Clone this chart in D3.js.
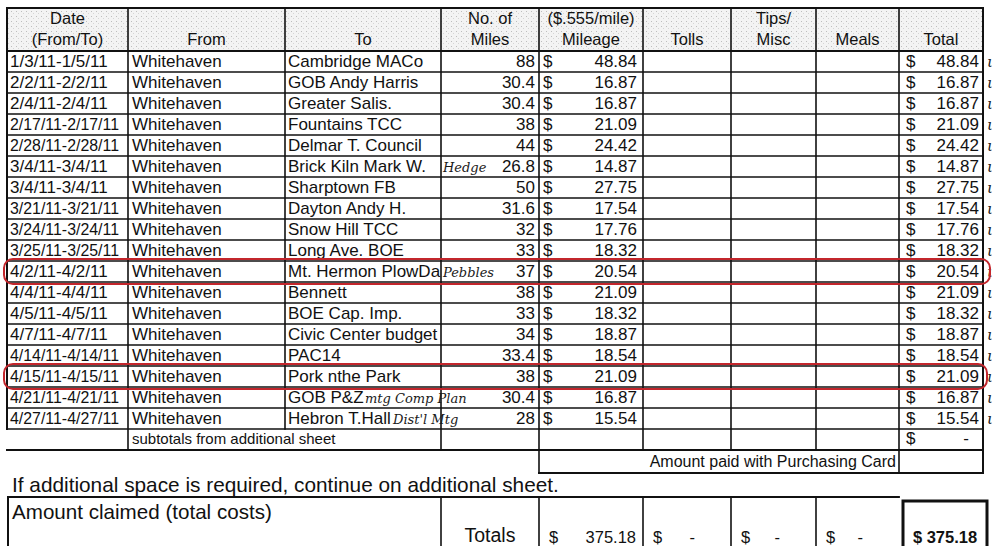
<!DOCTYPE html>
<html>
<head>
<meta charset="utf-8">
<script src="https://cdn.jsdelivr.net/npm/d3@7"></script>
<style>
  body { margin: 0; background: #fff; }
  svg { display: block; }
  text { font-family: "Liberation Sans", Arial, sans-serif; fill: #111; }
  .hand { font-family: "DejaVu Serif", serif; font-style: italic; fill: #1a1a1a; }
</style>
</head>
<body>
<svg id="sheet" width="997" height="546"></svg>
<script>
const dates = ['1/3/11-1/5/11', '2/2/11-2/2/11', '2/4/11-2/4/11', '2/17/11-2/17/11',
  '2/28/11-2/28/11', '3/4/11-3/4/11', '3/4/11-3/4/11', '3/21/11-3/21/11',
  '3/24/11-3/24/11', '3/25/11-3/25/11', '4/2/11-4/2/11', '4/4/11-4/4/11',
  '4/5/11-4/5/11', '4/7/11-4/7/11', '4/14/11-4/14/11', '4/15/11-4/15/11',
  '4/21/11-4/21/11', '4/27/11-4/27/11'];
const fromPlace = ['Whitehaven', 'Whitehaven', 'Whitehaven', 'Whitehaven', 'Whitehaven',
  'Whitehaven', 'Whitehaven', 'Whitehaven', 'Whitehaven', 'Whitehaven', 'Whitehaven',
  'Whitehaven', 'Whitehaven', 'Whitehaven', 'Whitehaven', 'Whitehaven', 'Whitehaven',
  'Whitehaven'];
const toPlace = ['Cambridge MACo', 'GOB Andy Harris', 'Greater Salis.', 'Fountains TCC',
  'Delmar T. Council', 'Brick Kiln Mark W.', 'Sharptown FB', 'Dayton Andy H.',
  'Snow Hill TCC', 'Long Ave. BOE', 'Mt. Hermon PlowDa', 'Bennett', 'BOE Cap. Imp.',
  'Civic Center budget', 'PAC14', 'Pork nthe Park', 'GOB P&Z', 'Hebron T.Hall'];
const miles = [88, 30.4, 30.4, 38, 44, 26.8, 50, 31.6, 32, 33, 37, 38, 33, 34, 33.4, 38, 30.4, 28];
const mileage = [48.84, 16.87, 16.87, 21.09, 24.42, 14.87, 27.75, 17.54, 17.76, 18.32,
  20.54, 21.09, 18.32, 18.87, 18.54, 21.09, 16.87, 15.54];
const rowTotal = [48.84, 16.87, 16.87, 21.09, 24.42, 14.87, 27.75, 17.54, 17.76, 18.32,
  20.54, 21.09, 18.32, 18.87, 18.54, 21.09, 16.87, 15.54];
const circledRows = [10, 15];
const handNotes = [{row: 5, text: 'Hedge', col: 'miles', dx: 2},
  {row: 10, text: 'Pebbles', col: 'miles', dx: 2},
  {row: 16, text: 'mtg Comp Plan', col: 'to', dx: 80},
  {row: 17, text: "Dist'l Mtg", col: 'to', dx: 108}];
const headerTop = ['Date', '', '', 'No. of', '($.555/mile)', '', 'Tips/', '', ''];
const headerBottom = ['(From/To)', 'From', 'To', 'Miles', 'Mileage', 'Tolls', 'Misc', 'Meals', 'Total'];
const grandTotals = ['375.18', '-', '-', '-'];
const grandTotal = '$ 375.18';

// ---- layout ----
const svg = d3.select('#sheet');
const colKeys = ['date', 'from', 'to', 'miles', 'mileage', 'tolls', 'tips', 'meals', 'total', 'end'];
const colX = d3.scaleOrdinal().domain(colKeys).range([7, 128, 285, 441, 539, 643, 731, 816, 899, 983]);
const left = (k) => colX(k);
const right = (k) => colX(colKeys[colKeys.indexOf(k) + 1]);
const mid = (k) => (left(k) + right(k)) / 2;

const rowIdx = d3.range(dates.length + 1);          // last one = subtotals row
const y = d3.scaleBand().domain(rowIdx).range([51, 450]);
const headY = [8, 51];
const cardY = [450, 473];
const fmt = d3.format('.2f');
const fmtMiles = (v) => (Number.isInteger(v) ? String(v) : v.toFixed(1));

// halftone look of the header cells
const defs = svg.append('defs');
const pat = defs.append('pattern').attr('id', 'speckle')
  .attr('width', 5).attr('height', 5).attr('patternUnits', 'userSpaceOnUse');
pat.append('rect').attr('width', 5).attr('height', 5).attr('fill', '#f3f3f3');
pat.append('rect').attr('x', 1).attr('y', 1).attr('width', 1).attr('height', 1).attr('fill', '#bdbdbd');
pat.append('rect').attr('x', 3).attr('y', 3).attr('width', 1).attr('height', 1).attr('fill', '#d5d5d5');

svg.append('rect')
  .attr('x', left('date')).attr('y', headY[0])
  .attr('width', right('total') - left('date')).attr('height', headY[1] - headY[0])
  .attr('fill', 'url(#speckle)');

// ---- grid lines ----
const grid = svg.append('g').attr('stroke', '#111').attr('stroke-linecap', 'square');
function hline(x1, x2, yy, w = 1.6) {
  grid.append('line').attr('x1', x1).attr('x2', x2).attr('y1', yy).attr('y2', yy).attr('stroke-width', w);
}
function vline(xx, y1, y2, w = 1.6) {
  grid.append('line').attr('x1', xx).attr('x2', xx).attr('y1', y1).attr('y2', y2).attr('stroke-width', w);
}

hline(left('date'), right('total'), headY[0], 2);
hline(left('date'), right('total'), headY[1], 1.8);
dates.forEach((d, i) => hline(left('date'), right('total'), y(i) + y.bandwidth(), 1.6));
hline(left('date'), right('total'), y(dates.length) + y.bandwidth(), 2);
hline(left('mileage'), right('total'), cardY[1], 2);

const lastRowBottom = y(dates.length - 1) + y.bandwidth();
const subBottom = y(dates.length) + y.bandwidth();
vline(left('date'), headY[0], lastRowBottom, 2);
vline(left('from'), headY[0], subBottom);
vline(left('to'), headY[0], lastRowBottom);
vline(left('miles'), headY[0], subBottom);
vline(left('mileage'), headY[0], cardY[1]);
['tolls', 'tips', 'meals'].forEach((k) => vline(left(k), headY[0], subBottom));
vline(left('total'), headY[0], cardY[1]);
vline(right('total'), headY[0], cardY[1], 2);

// ---- header text ----
const head = svg.append('g').attr('font-size', 16.5).attr('text-anchor', 'middle');
colKeys.slice(0, 9).forEach((k, i) => {
  head.append('text').attr('x', mid(k)).attr('y', 24).text(headerTop[i]);
  head.append('text').attr('x', mid(k)).attr('y', 45).text(headerBottom[i]);
});

// ---- body rows ----
const body = svg.append('g').attr('font-size', 17);
const rows = body.selectAll('g.row').data(dates).join('g')
  .attr('class', 'row')
  .attr('transform', (d, i) => `translate(0, ${y(i) + 16})`);

// long dates are squeezed into the cell, as the spreadsheet did
const dateText = rows.append('text').attr('x', left('date') + 3).text((d) => d);
dateText.filter((d) => d.length > 13)
  .attr('textLength', 109).attr('lengthAdjust', 'spacingAndGlyphs');

rows.append('text').attr('x', left('from') + 4).text((d, i) => fromPlace[i]);
rows.append('text').attr('x', left('to') + 3).text((d, i) => toPlace[i]);
rows.append('text').attr('x', right('miles') - 4).attr('text-anchor', 'end').text((d, i) => fmtMiles(miles[i]));
rows.append('text').attr('x', left('mileage') + 4).text('$');
rows.append('text').attr('x', right('mileage') - 6).attr('text-anchor', 'end').text((d, i) => fmt(mileage[i]));
rows.append('text').attr('x', left('total') + 7).text('$');
rows.append('text').attr('x', right('total') - 4).attr('text-anchor', 'end').text((d, i) => fmt(rowTotal[i]));

// subtotals + purchasing card rows
const subY = y(dates.length) + 15;
svg.append('text').attr('x', left('from') + 4).attr('y', subY).attr('font-size', 15)
  .text('subtotals from additional sheet');
svg.append('text').attr('x', left('total') + 7).attr('y', subY).attr('font-size', 17).text('$');
svg.append('text').attr('x', right('total') - 14).attr('y', subY).attr('font-size', 17)
  .attr('text-anchor', 'end').text('-');
svg.append('text').attr('x', left('total') - 3).attr('y', cardY[1] - 6).attr('font-size', 16)
  .attr('text-anchor', 'end').text('Amount paid with Purchasing Card');

// handwritten notes
const notes = svg.append('g');
notes.selectAll('text.note').data(handNotes).join('text')
  .attr('class', 'hand note')
  .attr('x', (n) => left(n.col) + n.dx).attr('y', (n) => y(n.row) + 16)
  .attr('font-size', 13).text((n) => n.text);
notes.selectAll('text.tick').data(dates).join('text')
  .attr('class', 'hand tick')
  .attr('x', right('total') + 4).attr('y', (d, i) => y(i) + 16)
  .attr('font-size', 15).text('ι');

// red rounded marks around two rows
svg.append('g').selectAll('rect').data(circledRows).join('rect')
  .attr('x', 4).attr('y', (r) => y(r) - 2)
  .attr('width', (r) => (r === 10 ? 986 : 983)).attr('height', y.bandwidth() + 4)
  .attr('rx', 9)
  .attr('fill', 'none').attr('stroke', '#c3262c').attr('stroke-width', 2);

// ---- lower section ----
svg.append('text').attr('x', 12).attr('y', 492).attr('font-size', 20.8)
  .text('If additional space is required, continue on additional sheet.');

const boxTop = 497;
hline(left('date') + 1, left('total'), boxTop, 1.8);
vline(left('date') + 1, boxTop, 546, 2);
['miles', 'mileage', 'tolls', 'tips', 'meals'].forEach((k) => vline(left(k), boxTop, 546));
svg.append('text').attr('x', 12).attr('y', 519).attr('font-size', 20.6).text('Amount claimed (total costs)');
svg.append('text').attr('x', mid('miles')).attr('y', 542).attr('font-size', 19.5)
  .attr('text-anchor', 'middle').text('Totals');

['mileage', 'tolls', 'tips', 'meals'].forEach((k, i) => {
  svg.append('text').attr('x', left(k) + 10).attr('y', 543).attr('font-size', 16.5).text('$');
  svg.append('text').attr('x', grandTotals[i] === '-' ? right(k) - 36 : right(k) - 7)
    .attr('y', 543).attr('font-size', 16.5).attr('text-anchor', 'end').text(grandTotals[i]);
});

svg.append('rect').attr('x', left('total') + 4).attr('y', 501)
  .attr('width', right('total') - left('total')).attr('height', 60)
  .attr('fill', 'none').attr('stroke', '#111').attr('stroke-width', 3);
svg.append('text').attr('x', (left('total') + right('total')) / 2 + 4).attr('y', 543)
  .attr('font-size', 16.5).attr('font-weight', 'bold').attr('text-anchor', 'middle').text(grandTotal);
</script>
</body>
</html>
